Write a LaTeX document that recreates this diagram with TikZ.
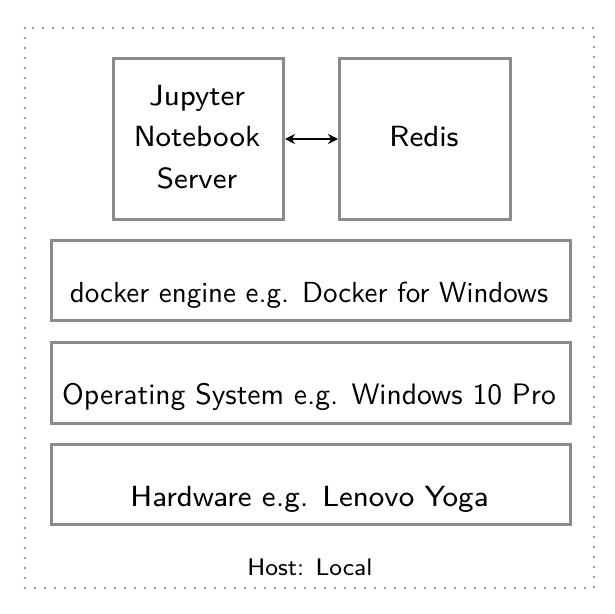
\documentclass[tikz,border=0pt]{standalone}
\usetikzlibrary{arrows.meta}
\definecolor{boxgray}{RGB}{138,139,142}
\definecolor{dotgray}{RGB}{150,152,155}
\newcommand{\txtA}[2]{\scalebox{#1}{\fontsize{8}{10}\selectfont\sffamily #2}}
\newcommand{\txtB}[2]{\scalebox{#1}{\fontsize{10}{12}\selectfont\sffamily #2}}
\begin{document}
\begin{tikzpicture}[x=1pt,y=-1pt,
  layer/.style={draw=boxgray,line width=3pt,fill=white,anchor=north west,inner sep=0pt},
  lbl/.style={anchor=base,inner sep=0pt},
  conn/.style={line width=1.6pt,{Stealth[length=10pt,width=10pt]}-{Stealth[length=10pt,width=10pt]}}]
\useasboundingbox (0,0) rectangle (615,613);
% outer host
\draw[dotgray,line width=2.6pt,line cap=round,dash pattern=on 0pt off 10pt] (25,28) rectangle (594,588);
% boxes
\node[layer,minimum width=170pt,minimum height=161pt] (jup) at (112,57) {};
\node[layer,minimum width=171pt,minimum height=161pt] (redis) at (338,57) {};
\node[layer,minimum width=519pt,minimum height=80pt] (docker) at (50,239) {};
\node[layer,minimum width=519pt,minimum height=81pt] (os) at (50,341) {};
\node[layer,minimum width=519pt,minimum height=80pt] (hw) at (50,443) {};
% texts
\node[lbl] (jupt1) at (197,105) {\txtA{3.65}{Jupyter}};
\node[lbl] (jupt2) at (197,146.7) {\txtA{3.65}{Notebook}};
\node[lbl] (jupt3) at (197,188) {\txtA{3.65}{Server}};
\node[lbl] (redist) at (424,146.7) {\txtA{3.65}{Redis}};
\node[lbl] (dockert) at (309,302) {\txtB{2.90}{docker engine e.g. Docker for Windows}};
\node[lbl] (ost) at (309,404) {\txtB{2.96}{Operating System e.g. Windows 10 Pro}};
\node[lbl] (hwt) at (309.5,506) {\txtA{3.65}{Hardware e.g. Lenovo Yoga}};
\node[lbl] (host) at (310,575) {\txtA{3.0}{Host: Local}};
% connector
\draw[conn] (jup.east) -- (redis.west);
\end{tikzpicture}
\end{document}
